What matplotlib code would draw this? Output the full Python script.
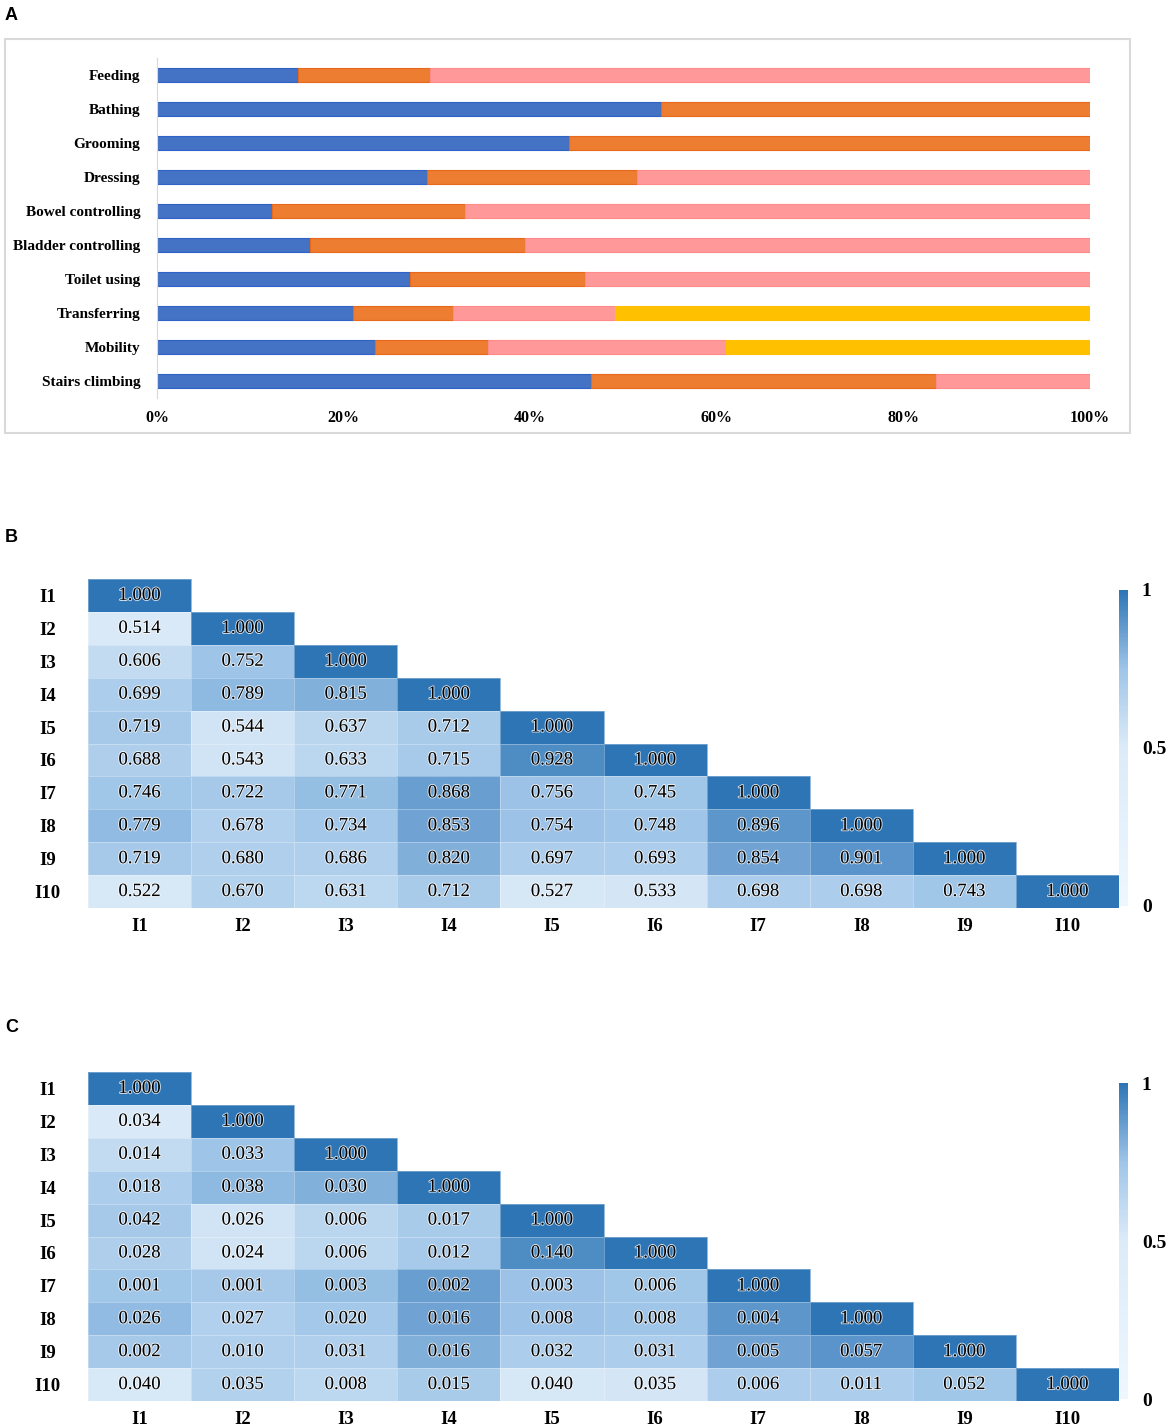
import numpy as np
import matplotlib
matplotlib.use('Agg')
import matplotlib.pyplot as plt
import matplotlib.patheffects as pe
from matplotlib.colors import LinearSegmentedColormap, Normalize
from matplotlib.cm import ScalarMappable
from matplotlib.patches import Rectangle

# panel A data (percent of patients per level)
activities = ['Feeding', 'Bathing', 'Grooming', 'Dressing', 'Bowel controlling',
              'Bladder controlling', 'Toilet using', 'Transferring', 'Mobility',
              'Stairs climbing']
seg_blue = [15.1, 54.0, 44.2, 28.9, 12.3, 16.4, 27.1, 21.0, 23.4, 46.5]
seg_orange = [14.2, 46.0, 55.8, 22.5, 20.7, 23.0, 18.8, 10.7, 12.1, 37.0]
seg_pink = [70.7, 0.0, 0.0, 48.6, 67.0, 60.6, 54.1, 17.4, 25.5, 16.5]
seg_yellow = [0.0, 0.0, 0.0, 0.0, 0.0, 0.0, 0.0, 50.9, 39.0, 0.0]
pct_ticks = [0, 20, 40, 60, 80, 100]

# panels B and C (lower triangles)
items = ['I1', 'I2', 'I3', 'I4', 'I5', 'I6', 'I7', 'I8', 'I9', 'I10']
corr_b = [
    [1.000],
    [0.514, 1.000],
    [0.606, 0.752, 1.000],
    [0.699, 0.789, 0.815, 1.000],
    [0.719, 0.544, 0.637, 0.712, 1.000],
    [0.688, 0.543, 0.633, 0.715, 0.928, 1.000],
    [0.746, 0.722, 0.771, 0.868, 0.756, 0.745, 1.000],
    [0.779, 0.678, 0.734, 0.853, 0.754, 0.748, 0.896, 1.000],
    [0.719, 0.680, 0.686, 0.820, 0.697, 0.693, 0.854, 0.901, 1.000],
    [0.522, 0.670, 0.631, 0.712, 0.527, 0.533, 0.698, 0.698, 0.743, 1.000],
]
corr_c = [
    [1.000],
    [0.034, 1.000],
    [0.014, 0.033, 1.000],
    [0.018, 0.038, 0.030, 1.000],
    [0.042, 0.026, 0.006, 0.017, 1.000],
    [0.028, 0.024, 0.006, 0.012, 0.140, 1.000],
    [0.001, 0.001, 0.003, 0.002, 0.003, 0.006, 1.000],
    [0.026, 0.027, 0.020, 0.016, 0.008, 0.008, 0.004, 1.000],
    [0.002, 0.010, 0.031, 0.016, 0.032, 0.031, 0.005, 0.057, 1.000],
    [0.040, 0.035, 0.008, 0.015, 0.040, 0.035, 0.006, 0.011, 0.052, 1.000],
]
cbar_ticks = [0, 0.5, 1]
cbar_labels = ['0', '0.5', '1']

W, H = 1170, 1428
fig = plt.figure(figsize=(W / 100, H / 100), dpi=100)
serif = ['Liberation Serif', 'DejaVu Serif']


def fbox(x0, y0, x1, y1):
    # pixel box (top-left origin) -> figure rect
    return [x0 / W, 1 - y1 / H, (x1 - x0) / W, (y1 - y0) / H]


# panel letters
for lab, y in [('A', 15), ('B', 537), ('C', 1028)]:
    fig.text(5 / W, 1 - y / H, lab, fontsize=13, fontweight='bold',
             family='Liberation Sans', va='center', ha='left')

# ---------------- panel A ----------------
fig.patches.append(Rectangle((5 / W, 1 - 433 / H), 1125 / W, 394 / H,
                             transform=fig.transFigure, fill=False,
                             edgecolor='#d9d9d9', lw=1.5))
axa = fig.add_axes(fbox(157, 58, 1090, 398))
ypos = np.arange(len(activities))
left = np.zeros(len(activities))
for vals, col, ec in [(seg_blue, '#4472c4', '#2f62c8'),
                      (seg_orange, '#ed7d31', '#e8691a'),
                      (seg_pink, '#ff9999', '#ff8a8a'),
                      (seg_yellow, '#ffc000', '#ffc000')]:
    vals = np.array(vals)
    axa.barh(ypos, vals, left=left, height=0.39, color=col, edgecolor=ec,
             linewidth=0.8)
    left = left + vals
axa.set_xlim(0, 100)
axa.set_ylim(len(activities) - 0.5, -0.5)
axa.set_yticks(ypos)
axa.set_yticklabels(activities, family=serif, fontweight='bold', fontsize=11)
axa.set_xticks(pct_ticks)
axa.set_xticklabels([f'{t}%' for t in pct_ticks], family=serif,
                    fontweight='bold', fontsize=11.5)
axa.tick_params(length=0)
axa.tick_params(axis='y', pad=12)
axa.tick_params(axis='x', pad=9)
for s in ['top', 'right', 'bottom']:
    axa.spines[s].set_visible(False)
axa.spines['left'].set_color('#d9d9d9')

# ---------------- panels B, C ----------------
cmap = LinearSegmentedColormap.from_list(
    'blues_x', [(0, '#eef7fe'), (0.5, '#dcebf8'), (0.75, '#9fc5e8'),
                (1, '#2e75b6')])
n = len(items)
colour_vals = np.full((n, n), np.nan)
for i, row in enumerate(corr_b):
    colour_vals[i, :len(row)] = row
colour_vals = np.ma.masked_invalid(colour_vals)

for text_rows, (y0, y1) in [(corr_b, (579, 908)), (corr_c, (1072, 1401))]:
    ax = fig.add_axes(fbox(88, y0, 1119, y1))
    ax.pcolormesh(np.arange(n + 1), np.arange(n + 1), colour_vals, cmap=cmap,
                  vmin=0, vmax=1, edgecolors=(1, 1, 1, 0.3), linewidth=0.5)
    for i, row in enumerate(text_rows):
        for j, v in enumerate(row):
            ax.text(j + 0.5, i + 0.5, f'{v:.3f}', ha='center', va='center',
                    fontsize=13.5, family=serif, color='black',
                    path_effects=[pe.withStroke(linewidth=1.4,
                                                foreground=(1, 1, 1, 0.75))])
    ax.set_xlim(0, n)
    ax.set_ylim(n, 0)
    ax.set_xticks(np.arange(n) + 0.5)
    ax.set_xticklabels(items, family=serif, fontweight='bold', fontsize=13.5)
    ax.set_yticks(np.arange(n) + 0.5)
    ax.set_yticklabels(items, family=serif, fontweight='bold', fontsize=13.5,
                       ha='center')
    ax.tick_params(length=0)
    ax.tick_params(axis='y', pad=29)
    ax.tick_params(axis='x', pad=7)
    for s in ax.spines.values():
        s.set_visible(False)

    cax = fig.add_axes(fbox(1119, y0 + 11, 1128, y1 - 2))
    cb = fig.colorbar(ScalarMappable(norm=Normalize(0, 1), cmap=cmap), cax=cax)
    cb.outline.set_visible(False)
    cb.set_ticks(cbar_ticks)
    cb.set_ticklabels(cbar_labels)
    cax.tick_params(length=0, pad=10)
    for t in cax.get_yticklabels():
        t.set_family(serif)
        t.set_fontweight('bold')
        t.set_fontsize(14)

fig.savefig('out.png', dpi=100, facecolor='white')
